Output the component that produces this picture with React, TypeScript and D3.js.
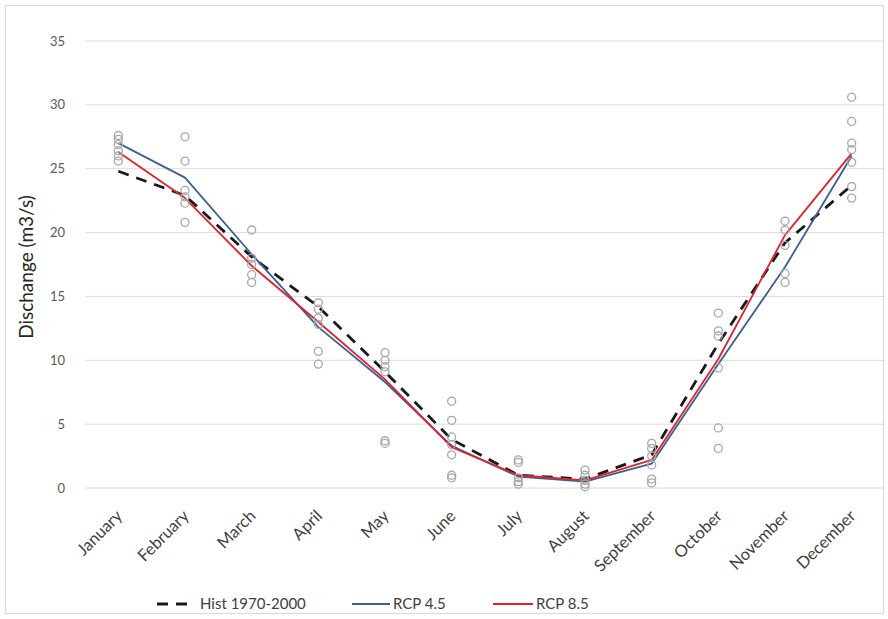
import React from "react";
import * as d3 from "d3";

const months = [
  "January", "February", "March", "April", "May", "June",
  "July", "August", "September", "October", "November", "December",
];

const yTicks = [0, 5, 10, 15, 20, 25, 30, 35];

// Mean monthly discharge (m3/s)
const hist = [24.8, 22.9, 18.1, 14.2, 9.1, 3.8, 1.0, 0.7, 2.6, 11.3, 19.2, 23.7];
const rcp45 = [27.0, 24.3, 18.3, 12.6, 8.3, 3.3, 0.9, 0.5, 1.9, 9.7, 17.3, 26.0];
const rcp85 = [26.3, 22.7, 17.4, 13.0, 8.5, 3.2, 1.0, 0.6, 2.2, 10.1, 19.8, 26.2];

// Individual model runs per month
const ensembleRuns = [
  [27.6, 27.3, 26.9, 26.4, 26.0, 25.6],
  [27.5, 25.6, 23.3, 22.8, 22.3, 20.8],
  [20.2, 18.0, 17.5, 16.7, 16.1],
  [14.5, 14.0, 13.3, 12.8, 10.7, 9.7],
  [10.6, 10.0, 9.5, 9.1, 3.7, 3.5],
  [6.8, 5.3, 4.0, 3.4, 2.6, 1.0, 0.8],
  [2.2, 2.0, 0.8, 0.5, 0.3],
  [1.4, 1.0, 0.6, 0.3, 0.1],
  [3.5, 3.1, 2.5, 1.8, 0.7, 0.4],
  [13.7, 12.3, 11.9, 9.4, 4.7, 3.1],
  [20.9, 20.2, 19.0, 16.8, 16.1],
  [30.6, 28.7, 27.0, 26.5, 25.5, 23.6, 22.7],
];

const W = 888;
const H = 619;
const FONT = "Lato, 'Open Sans', sans-serif";

export default function App() {
  const x = d3.scaleBand<string>().domain(months).range([85, 885]).padding(0);
  const y = d3.scaleLinear().domain([0, 35]).range([488, 41]);
  const cx = (m: string) => (x(m) ?? 0) + x.bandwidth() / 2;

  const line = d3
    .line<number>()
    .x((_, i) => cx(months[i]))
    .y((v) => y(v));

  const series = [
    { name: "Hist 1970-2000", values: hist, color: "#1a1a1a", width: 2.8, dash: "11,8" },
    { name: "RCP 4.5", values: rcp45, color: "#3b5f94", width: 1.8, dash: undefined },
    { name: "RCP 8.5", values: rcp85, color: "#e0222c", width: 1.8, dash: undefined },
  ];

  const legendPos = [
    { x1: 157, x2: 195, tx: 200 },
    { x1: 352, x2: 390, tx: 393 },
    { x1: 493, x2: 533, tx: 536 },
  ];

  return (
    <svg
      width={W}
      height={H}
      style={{ position: "absolute", left: 0, top: 0, background: "#fff" }}
      fontFamily={FONT}
    >
      <rect x={5.5} y={5.5} width={878} height={608} fill="#fff" stroke="#d9d9d9" />

      {yTicks.map((t) => (
        <g key={t}>
          <line x1={85} x2={885} y1={y(t)} y2={y(t)} stroke="#dcdcdc" strokeWidth={1} />
          <text x={65} y={y(t)} dy="0.35em" textAnchor="end" fontSize={13} fill="#595959">
            {t}
          </text>
        </g>
      ))}

      <text
        transform={`translate(33,267) rotate(-90)`}
        textAnchor="middle"
        fontSize={19}
        fill="#262626"
      >
        Dischange (m3/s)
      </text>

      {months.map((m) => (
        <text
          key={m}
          transform={`translate(${cx(m) + 5},517) rotate(-45)`}
          textAnchor="end"
          fontSize={16.5}
          fill="#404040"
        >
          {m}
        </text>
      ))}

      {series.map((s) => (
        <path
          key={s.name}
          d={line(s.values) ?? ""}
          fill="none"
          stroke={s.color}
          strokeWidth={s.width}
          strokeDasharray={s.dash}
          strokeLinejoin="round"
        />
      ))}

      {ensembleRuns.map((runs, i) =>
        runs.map((v, j) => (
          <circle
            key={`${i}-${j}`}
            cx={cx(months[i])}
            cy={y(v)}
            r={4}
            fill="none"
            stroke="#a6a6a6"
            strokeWidth={1.3}
          />
        ))
      )}

      {series.map((s, i) => (
        <g key={s.name}>
          <line
            x1={legendPos[i].x1}
            x2={legendPos[i].x2}
            y1={604}
            y2={604}
            stroke={s.color}
            strokeWidth={s.width}
            strokeDasharray={s.dash}
          />
          <text x={legendPos[i].tx} y={604} dy="0.35em" fontSize={15} fill="#404040">
            {s.name}
          </text>
        </g>
      ))}
    </svg>
  );
}
